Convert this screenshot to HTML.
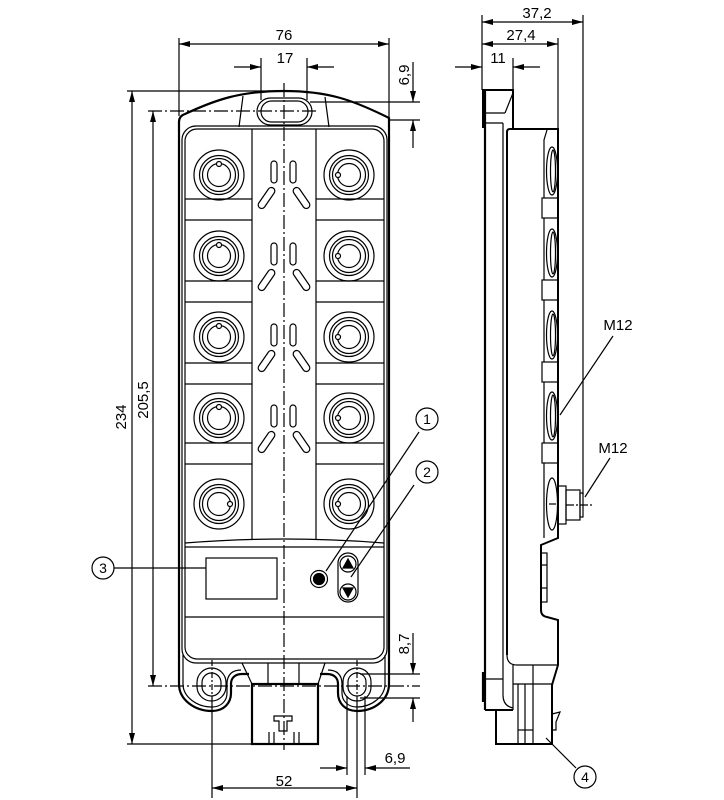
<!DOCTYPE html>
<html><head><meta charset="utf-8"><style>
html,body{margin:0;padding:0;background:#fff;}
svg{display:block;}
text{font-family:"Liberation Sans",Arial,sans-serif;font-size:15px;fill:#000;}
</style></head><body>
<svg width="724" height="800" viewBox="0 0 724 800" xmlns="http://www.w3.org/2000/svg">
<defs>
<marker id="ar" viewBox="0 0 11 6" refX="11" refY="3" markerWidth="11" markerHeight="6" markerUnits="userSpaceOnUse" orient="auto"><path d="M0,0 L11,3 L0,6z" fill="#000"/></marker>
</defs>
<g fill="none" stroke="#000" stroke-width="1.2">

<!-- ===== FRONT VIEW ===== -->
<!-- dimension 76 -->
<line x1="179" y1="38" x2="179" y2="116"/>
<line x1="389" y1="38" x2="389" y2="117"/>
<line x1="284" y1="44" x2="179" y2="44" marker-end="url(#ar)"/>
<line x1="284" y1="44" x2="389" y2="44" marker-end="url(#ar)"/>
<!-- dimension 17 -->
<line x1="261" y1="58" x2="261" y2="100"/>
<line x1="307" y1="58" x2="307" y2="100"/>
<line x1="234" y1="67" x2="261" y2="67" marker-end="url(#ar)"/>
<line x1="334" y1="67" x2="307" y2="67" marker-end="url(#ar)"/>
<!-- dimension 6,9 top right -->
<line x1="310" y1="102" x2="420" y2="102"/>
<line x1="389" y1="120" x2="420" y2="120"/>
<line x1="413" y1="62" x2="413" y2="102" marker-end="url(#ar)"/>
<line x1="413" y1="148" x2="413" y2="120" marker-end="url(#ar)"/>
<!-- dimension 234 -->
<line x1="127" y1="91" x2="280" y2="91"/>
<line x1="127" y1="744" x2="252" y2="744"/>
<line x1="132" y1="400" x2="132" y2="91" marker-end="url(#ar)"/>
<line x1="132" y1="400" x2="132" y2="744" marker-end="url(#ar)"/>
<!-- dimension 205,5 -->
<line x1="148" y1="111" x2="318" y2="111" stroke-dasharray="14 3 2 3"/>
<line x1="148" y1="686" x2="420" y2="686" stroke-dasharray="14 3 2 3"/>
<line x1="153" y1="400" x2="153" y2="111" marker-end="url(#ar)"/>
<line x1="153" y1="400" x2="153" y2="686" marker-end="url(#ar)"/>
<!-- dimension 8,7 -->
<line x1="360" y1="674" x2="420" y2="674"/>
<line x1="360" y1="698" x2="420" y2="698"/>
<line x1="413" y1="633" x2="413" y2="674" marker-end="url(#ar)"/>
<line x1="413" y1="722" x2="413" y2="698" marker-end="url(#ar)"/>
<!-- dimension 52 -->
<line x1="212" y1="700" x2="212" y2="798"/>
<line x1="357" y1="700" x2="357" y2="798"/>
<line x1="284" y1="788" x2="212" y2="788" marker-end="url(#ar)"/>
<line x1="284" y1="788" x2="357" y2="788" marker-end="url(#ar)"/>
<!-- dimension 6,9 bottom -->
<line x1="347" y1="696" x2="347" y2="775"/>
<line x1="365" y1="696" x2="365" y2="775"/>
<line x1="320" y1="768" x2="347" y2="768" marker-end="url(#ar)"/>
<line x1="410" y1="768" x2="365" y2="768" marker-end="url(#ar)"/>

<!-- body outline -->
<path d="M179,684 L179,122 Q179,116 185,114 C215,100 240,91 284,91 C328,91 353,100 389,118 L389,684 C389,700 374,711 357,711 C345,711 338,703 338,693 L338,684 C338,678 334,674 327,674 L320,674" stroke-width="2.2"/>
<path d="M179,684 C179,700 195,711 212,711 C224,711 231,703 231,693 L231,684 C231,678 235,674 242,674 L249,674" stroke-width="2.2"/>
<!-- inner contour around tabs -->
<path d="M183,655 L183,684 C183,697 197,707 212,707 C221,707 227,701 227,693 L227,684 C227,674 233,670 241,670"/>
<path d="M385,655 L385,684 C385,697 371,707 357,707 C348,707 342,701 342,693 L342,684 C342,674 336,670 328,670"/>
<!-- panel -->
<rect x="182" y="126" width="205" height="537" rx="14"/>
<rect x="185" y="129" width="199" height="530" rx="12"/>
<!-- top slot -->
<rect x="257" y="98" width="55" height="27" rx="13.5"/>
<rect x="261" y="101" width="47" height="21" rx="10.5"/>
<line x1="243" y1="96" x2="239" y2="127"/>
<line x1="325" y1="97" x2="329" y2="127"/>

<!-- column dividers -->
<line x1="252" y1="129" x2="252" y2="540"/>
<line x1="316" y1="129" x2="316" y2="540"/>
<!-- cell lines -->
<g>
<line x1="185" y1="199" x2="252" y2="199"/><line x1="316" y1="199" x2="384" y2="199"/>
<line x1="185" y1="220" x2="252" y2="220"/><line x1="316" y1="220" x2="384" y2="220"/>
<line x1="185" y1="281" x2="252" y2="281"/><line x1="316" y1="281" x2="384" y2="281"/>
<line x1="185" y1="302" x2="252" y2="302"/><line x1="316" y1="302" x2="384" y2="302"/>
<line x1="185" y1="363" x2="252" y2="363"/><line x1="316" y1="363" x2="384" y2="363"/>
<line x1="185" y1="384" x2="252" y2="384"/><line x1="316" y1="384" x2="384" y2="384"/>
<line x1="185" y1="443" x2="252" y2="443"/><line x1="316" y1="443" x2="384" y2="443"/>
<line x1="185" y1="464" x2="252" y2="464"/><line x1="316" y1="464" x2="384" y2="464"/>
</g>
<path d="M185,543 Q284,535 384,543"/>
<line x1="185" y1="547" x2="384" y2="547"/>
<line x1="185" y1="617" x2="384" y2="617"/>

<!-- connectors left -->
<g id="cl">
<circle cx="219" cy="175" r="25"/><circle cx="219" cy="175" r="19.5"/><circle cx="219" cy="175" r="16.5"/><circle cx="219" cy="175" r="11.5"/>
<circle cx="219" cy="256" r="25"/><circle cx="219" cy="256" r="19.5"/><circle cx="219" cy="256" r="16.5"/><circle cx="219" cy="256" r="11.5"/>
<circle cx="219" cy="337" r="25"/><circle cx="219" cy="337" r="19.5"/><circle cx="219" cy="337" r="16.5"/><circle cx="219" cy="337" r="11.5"/>
<circle cx="219" cy="418" r="25"/><circle cx="219" cy="418" r="19.5"/><circle cx="219" cy="418" r="16.5"/><circle cx="219" cy="418" r="11.5"/>
<circle cx="219" cy="504" r="25"/><circle cx="219" cy="504" r="19.5"/><circle cx="219" cy="504" r="16.5"/><circle cx="219" cy="504" r="11.5"/>
</g>
<g>
<circle cx="349" cy="175" r="25"/><circle cx="349" cy="175" r="19.5"/><circle cx="349" cy="175" r="16.5"/><circle cx="349" cy="175" r="11.5"/>
<circle cx="349" cy="256" r="25"/><circle cx="349" cy="256" r="19.5"/><circle cx="349" cy="256" r="16.5"/><circle cx="349" cy="256" r="11.5"/>
<circle cx="349" cy="337" r="25"/><circle cx="349" cy="337" r="19.5"/><circle cx="349" cy="337" r="16.5"/><circle cx="349" cy="337" r="11.5"/>
<circle cx="349" cy="418" r="25"/><circle cx="349" cy="418" r="19.5"/><circle cx="349" cy="418" r="16.5"/><circle cx="349" cy="418" r="11.5"/>
<circle cx="349" cy="504" r="25"/><circle cx="349" cy="504" r="19.5"/><circle cx="349" cy="504" r="16.5"/><circle cx="349" cy="504" r="11.5"/>
</g>
<!-- notches -->
<g fill="#fff">
<circle cx="219" cy="164" r="2.5"/><circle cx="219" cy="245" r="2.5"/><circle cx="219" cy="326" r="2.5"/><circle cx="219" cy="407" r="2.5"/><circle cx="230" cy="504" r="2.5"/>
<circle cx="338" cy="175" r="2.5"/><circle cx="338" cy="256" r="2.5"/><circle cx="338" cy="337" r="2.5"/><circle cx="338" cy="418" r="2.5"/><circle cx="338" cy="504" r="2.5"/>
</g>

<!-- LED marks -->
<g>
<rect x="271" y="161" width="6" height="22" rx="3"/><rect x="290" y="161" width="6" height="22" rx="3"/>
<rect x="263" y="186" width="7" height="24" rx="3.5" transform="rotate(34.5 266.5 198)"/><rect x="298" y="186" width="7" height="24" rx="3.5" transform="rotate(-34.5 301.5 198)"/>
<rect x="271" y="243" width="6" height="22" rx="3"/><rect x="290" y="243" width="6" height="22" rx="3"/>
<rect x="263" y="268" width="7" height="24" rx="3.5" transform="rotate(34.5 266.5 280)"/><rect x="298" y="268" width="7" height="24" rx="3.5" transform="rotate(-34.5 301.5 280)"/>
<rect x="271" y="324" width="6" height="22" rx="3"/><rect x="290" y="324" width="6" height="22" rx="3"/>
<rect x="263" y="349" width="7" height="24" rx="3.5" transform="rotate(34.5 266.5 361)"/><rect x="298" y="349" width="7" height="24" rx="3.5" transform="rotate(-34.5 301.5 361)"/>
<rect x="271" y="405" width="6" height="22" rx="3"/><rect x="290" y="405" width="6" height="22" rx="3"/>
<rect x="263" y="430" width="7" height="24" rx="3.5" transform="rotate(34.5 266.5 442)"/><rect x="298" y="430" width="7" height="24" rx="3.5" transform="rotate(-34.5 301.5 442)"/>
</g>

<!-- display, LED, buttons -->
<rect x="206" y="558" width="71" height="41"/>
<circle cx="319" cy="579" r="8.5"/>
<circle cx="319" cy="579" r="5.5" fill="#000"/>
<rect x="338" y="553" width="20" height="49" rx="10"/>
<circle cx="348" cy="564" r="8"/>
<circle cx="348" cy="592" r="8"/>
<path d="M343,568 L348,559 L353,568z" fill="#000"/>
<path d="M343,588 L348,597 L353,588z" fill="#000"/>

<!-- bottom connector -->
<line x1="242" y1="663" x2="252" y2="684"/>
<line x1="325" y1="663" x2="318" y2="684"/>
<line x1="268" y1="663" x2="268" y2="684"/>
<line x1="299" y1="663" x2="299" y2="684"/>
<rect x="252" y="684" width="66" height="60" stroke-width="2.2"/>
<path d="M274,716 L292,716 L292,721 L287,721 L287,731 L279,731 L279,721 L274,721z"/>
<line x1="269" y1="732" x2="269" y2="744"/><line x1="274" y1="732" x2="274" y2="744"/>
<line x1="294" y1="732" x2="294" y2="744"/><line x1="299" y1="732" x2="299" y2="744"/>

<!-- mounting holes -->
<rect x="197" y="668" width="29" height="33" rx="14.5"/>
<rect x="202" y="673" width="19" height="23" rx="9.5"/>
<rect x="343" y="668" width="28" height="33" rx="14"/>
<rect x="348" y="673" width="18" height="23" rx="9"/>
<line x1="212" y1="660" x2="212" y2="700" stroke-dasharray="6 2 2 2"/>
<line x1="357" y1="660" x2="357" y2="700" stroke-dasharray="6 2 2 2"/>

<!-- center line -->
<line x1="284" y1="83" x2="284" y2="750" stroke-dasharray="14 3 2 3"/>

<!-- callouts front -->
<circle cx="427" cy="419" r="11"/>
<line x1="419" y1="432" x2="326" y2="571"/>
<circle cx="427" cy="472" r="11"/>
<line x1="414" y1="485" x2="351" y2="577"/>
<circle cx="103" cy="568" r="11"/>
<line x1="114" y1="568" x2="206" y2="568"/>

<!-- ===== SIDE VIEW ===== -->
<line x1="482" y1="15" x2="482" y2="90"/>
<line x1="558" y1="38" x2="558" y2="129"/>
<line x1="583" y1="15" x2="583" y2="495"/>
<line x1="513" y1="58" x2="513" y2="90"/>
<line x1="532" y1="22" x2="482" y2="22" marker-end="url(#ar)"/>
<line x1="532" y1="22" x2="583" y2="22" marker-end="url(#ar)"/>
<line x1="520" y1="44" x2="482" y2="44" marker-end="url(#ar)"/>
<line x1="520" y1="44" x2="558" y2="44" marker-end="url(#ar)"/>
<line x1="455" y1="67" x2="482" y2="67" marker-end="url(#ar)"/>
<line x1="540" y1="67" x2="513" y2="67" marker-end="url(#ar)"/>

<!-- top block -->
<path d="M483,128 L483,90 L513,90 L513,129" stroke-width="2"/>
<line x1="513" y1="93" x2="505" y2="113"/>
<line x1="485" y1="113" x2="505" y2="113"/>
<line x1="485" y1="123" x2="503" y2="123"/>
<!-- left plate -->
<line x1="485" y1="90" x2="485" y2="710" stroke-width="2.2"/>
<path d="M483,672 L483,702" stroke-width="2.2"/>
<path d="M503,123 L503,695 Q503,706 513,708"/>
<line x1="485" y1="679" x2="503" y2="679"/>
<line x1="485" y1="710" x2="513" y2="710" stroke-width="2"/>
<!-- main body -->
<path d="M507,655 L507,132 Q507,129 510,129 L558,129 L558,538 L541,545 L541,610 Q541,616 547,617 L558,620 L558,665 L552,685 L552,744 L496,744 L496,710" stroke-width="2"/>
<path d="M507,655 Q507,665 517,665 L558,665"/>
<line x1="513" y1="665" x2="513" y2="710"/>
<line x1="533" y1="665" x2="533" y2="684"/>
<line x1="513" y1="684" x2="552" y2="684"/>
<line x1="518" y1="684" x2="518" y2="744"/>
<line x1="525" y1="684" x2="525" y2="744"/>
<line x1="533" y1="684" x2="533" y2="744"/>
<line x1="518" y1="730" x2="533" y2="730"/>
<path d="M552,714 L560,712 L556,722 L556,730 L552,730" />
<!-- face line -->
<path d="M547,130 L544,140 L544,538"/>
<!-- side connectors -->
<ellipse cx="552" cy="171" rx="5.5" ry="24"/><ellipse cx="553" cy="171" rx="2.5" ry="21"/>
<ellipse cx="552" cy="253" rx="5.5" ry="24"/><ellipse cx="553" cy="253" rx="2.5" ry="21"/>
<ellipse cx="552" cy="335" rx="5.5" ry="24"/><ellipse cx="553" cy="335" rx="2.5" ry="21"/>
<ellipse cx="552" cy="416" rx="5.5" ry="24"/><ellipse cx="553" cy="416" rx="2.5" ry="21"/>
<rect x="542" y="198" width="16" height="20" fill="#fff"/>
<rect x="542" y="280" width="16" height="20" fill="#fff"/>
<rect x="542" y="362" width="16" height="20" fill="#fff"/>
<rect x="542" y="443" width="16" height="20" fill="#fff"/>
<line x1="558" y1="129" x2="558" y2="538" stroke-width="2"/>
<!-- M12 connector -->
<ellipse cx="552" cy="504" rx="5.5" ry="26"/>
<line x1="549" y1="504" x2="556" y2="504"/>
<rect x="558" y="486" width="8" height="38"/>
<rect x="566" y="490" width="14" height="30"/>
<rect x="580" y="493" width="3" height="24"/>
<line x1="566" y1="505" x2="593" y2="505" stroke-dasharray="8 2 2 2"/>
<!-- protrusion -->
<rect x="541" y="553" width="6" height="49"/>
<line x1="541" y1="565" x2="547" y2="565"/>
<line x1="541" y1="588" x2="547" y2="588"/>

<!-- M12 leaders -->
<line x1="613" y1="336" x2="560" y2="415"/>
<line x1="610" y1="458" x2="585" y2="497"/>
<!-- callout 4 -->
<circle cx="585" cy="777" r="11"/>
<line x1="576" y1="768" x2="546" y2="738"/>
</g>

<!-- TEXT -->
<text x="284" y="40" text-anchor="middle">76</text>
<text x="285" y="63" text-anchor="middle">17</text>
<text transform="translate(409,75) rotate(-90)" text-anchor="middle">6,9</text>
<text transform="translate(126,417) rotate(-90)" text-anchor="middle">234</text>
<text transform="translate(148,400) rotate(-90)" text-anchor="middle">205,5</text>
<text transform="translate(409,644) rotate(-90)" text-anchor="middle">8,7</text>
<text x="284" y="786" text-anchor="middle">52</text>
<text x="395" y="763" text-anchor="middle">6,9</text>
<text x="537" y="18" text-anchor="middle">37,2</text>
<text x="521" y="40" text-anchor="middle">27,4</text>
<text x="498" y="63" text-anchor="middle">11</text>
<text x="618" y="330" text-anchor="middle">M12</text>
<text x="613" y="453" text-anchor="middle">M12</text>
<text x="427" y="424" text-anchor="middle" style="font-size:14px">1</text>
<text x="427" y="477" text-anchor="middle" style="font-size:14px">2</text>
<text x="103" y="573" text-anchor="middle" style="font-size:14px">3</text>
<text x="585" y="782" text-anchor="middle" style="font-size:14px">4</text>
</svg>
</body></html>
